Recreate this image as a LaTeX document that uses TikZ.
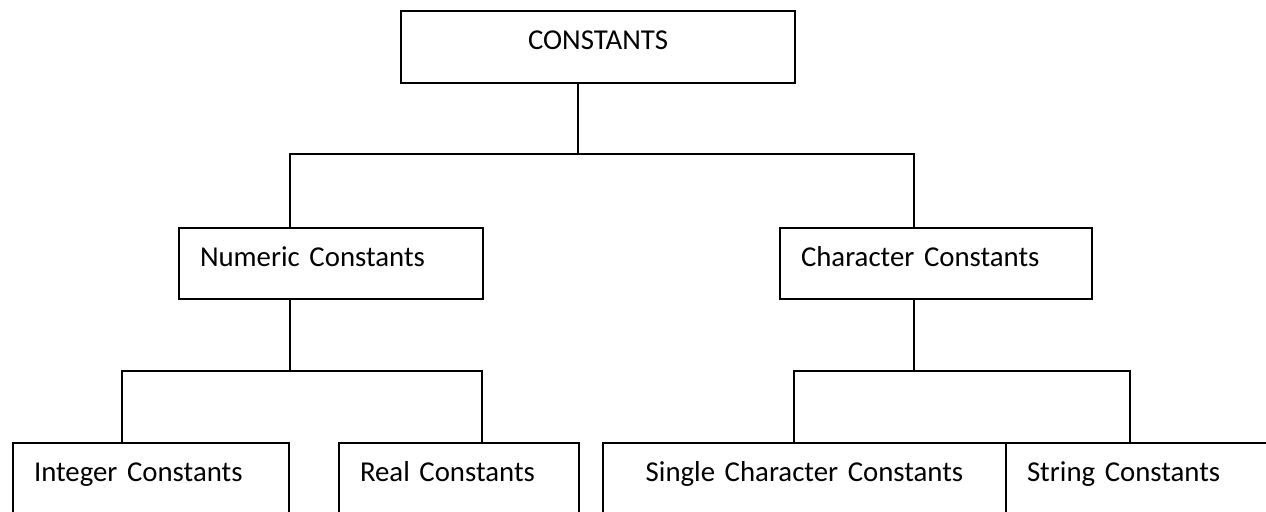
\documentclass[tikz,border=0pt]{standalone}
\usepackage{fontspec}
\setmainfont{Carlito}

\begin{document}
\begin{tikzpicture}[x=0.5pt,y=-0.5pt,
    every node/.style={font=\fontsize{14.4pt}{17pt}\selectfont},
    box/.style={draw,line width=1pt,anchor=north west,inner xsep=10.5pt,inner ysep=0pt,text height=19.5pt,align=left},
    leaf/.style={box,text depth=60pt},
    link/.style={line width=1pt}]
  \clip (0,0) rectangle (1266,512);
  \draw
    (400,10) node[box,align=center,text width=176pt,text depth=16.5pt] (const){CONSTANTS}
    (178,227) node[box,text width=131pt,text depth=16pt] (num){Numeric Constants}
    (779,227) node[box,text width=135pt,text depth=16pt] (chr){Character Constants}
    (12,442) node[leaf,text width=117pt] (int){Integer Constants}
    (338,442) node[leaf,text width=99pt] (real){Real Constants}
    (602,442) node[leaf,align=center,text width=180.5pt] (single){Single Character Constants}
    (1005,442) node[leaf,text width=126.5pt] (str){String Constants};
  \coordinate (j0) at (578,154);
  \coordinate (j1) at (290,371);
  \coordinate (j2) at (914,371);
  \begin{scope}[link]
    \draw (const.south -| j0) -- (j0);
    \draw ([xshift=56pt]num.north west) |- (j0) -| ([xshift=67.5pt]chr.north west);
    \draw ([xshift=56pt]num.south west) -- (j1);
    \draw ([xshift=55pt]int.north west) |- (j1) -| ([xshift=72pt]real.north west);
    \draw ([xshift=67.5pt]chr.south west) -- (j2);
    \draw ([xshift=96pt]single.north west) |- (j2) -| ([xshift=62.5pt]str.north west);
  \end{scope}
\end{tikzpicture}
\end{document}
